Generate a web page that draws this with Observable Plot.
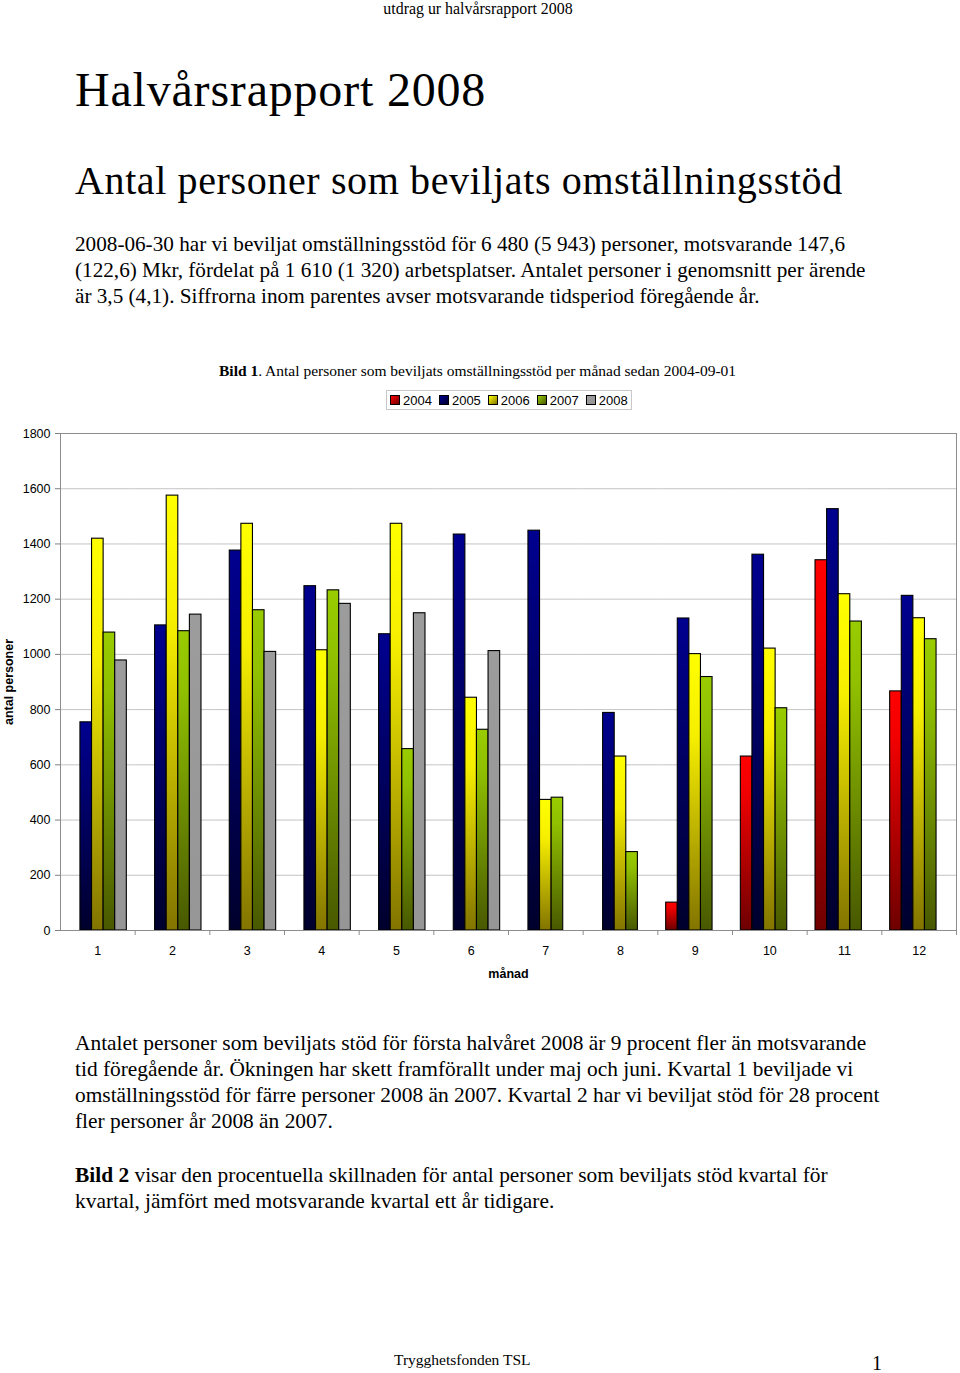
<!DOCTYPE html>
<html><head><meta charset="utf-8">
<script src="https://cdn.jsdelivr.net/npm/d3@7"></script>
<script src="https://cdn.jsdelivr.net/npm/@observablehq/plot@0.6"></script>
<style>
body{margin:0;background:#fff;width:960px;height:1373px;position:relative;overflow:hidden;}
.t{position:absolute;white-space:nowrap;color:#000;font-family:"Liberation Serif","Times New Roman",serif;}
#legend{position:absolute;left:386px;top:390px;width:246px;height:20px;border:1px solid #c8c8c8;font-family:"Liberation Sans",Arial,sans-serif;font-size:13px;line-height:19px;display:flex;align-items:center;padding-left:3px;box-sizing:border-box;}
#legend .it{display:flex;align-items:center;margin-right:7px;}
#legend .sw{width:8px;height:8px;border:1px solid #000;margin-right:3px;}
#chart{position:absolute;left:0;top:420px;}
#chart [aria-label="y-axis label"], #chart [aria-label="fx-axis label"]{font-weight:bold;}
</style></head><body>
<div class="t" style="left:0;width:956px;text-align:center;top:0;font-size:15.9px;line-height:17px">utdrag ur halvårsrapport 2008</div>
<div class="t" style="left:75px;top:64px;font-size:48px;line-height:52px;letter-spacing:0.8px">Halvårsrapport 2008</div>
<div class="t" style="left:75px;top:158px;font-size:40px;line-height:46px;letter-spacing:0.62px">Antal personer som beviljats omställningsstöd</div>
<div class="t" style="left:75px;top:231px;font-size:21.2px;line-height:26px">2008-06-30 har vi beviljat omställningsstöd för 6 480 (5 943) personer, motsvarande 147,6<br>(122,6) Mkr, fördelat på 1 610 (1 320) arbetsplatser. Antalet personer i genomsnitt per ärende<br>är 3,5 (4,1). Siffrorna inom parentes avser motsvarande tidsperiod föregående år.</div>
<div class="t" style="left:219px;top:362px;font-size:15.5px;line-height:18px"><b>Bild 1</b>. Antal personer som beviljats omställningsstöd per månad sedan 2004-09-01</div>
<div id="legend"></div>
<div id="chart"></div>
<div class="t" style="left:75px;top:1030px;font-size:21.4px;line-height:26px">Antalet personer som beviljats stöd för första halvåret 2008 är 9 procent fler än motsvarande<br>tid föregående år. Ökningen har skett framförallt under maj och juni. Kvartal 1 beviljade vi<br>omställningsstöd för färre personer 2008 än 2007. Kvartal 2 har vi beviljat stöd för 28 procent<br>fler personer år 2008 än 2007.</div>
<div class="t" style="left:75px;top:1162px;font-size:21.4px;line-height:26px"><b>Bild 2</b> visar den procentuella skillnaden för antal personer som beviljats stöd kvartal för<br>kvartal, jämfört med motsvarande kvartal ett år tidigare.</div>
<div class="t" style="left:394px;top:1351px;font-size:15.5px;line-height:18px">Trygghetsfonden TSL</div>
<div class="t" style="left:872px;top:1352px;font-size:20px;line-height:22px">1</div>
<script>
// ---- data ----
const months = ["1","2","3","4","5","6","7","8","9","10","11","12"];
const years = ["2004","2005","2006","2007","2008"];
const v2004 = [null,null,null,null,null,null,null,null,101,630,1341,866];
const v2005 = [754,1105,1376,1247,1073,1434,1448,788,1130,1361,1526,1212];
const v2006 = [1419,1575,1473,1015,1473,843,473,630,1001,1021,1218,1131];
const v2007 = [1079,1084,1160,1232,657,727,481,284,918,805,1119,1055];
const v2008 = [978,1144,1009,1183,1149,1012,null,null,null,null,null,null];
const yTicks = [0,200,400,600,800,1000,1200,1400,1600,1800];

// ---- styles ----
const series = {"2004": v2004, "2005": v2005, "2006": v2006, "2007": v2007, "2008": v2008};
const grad = {
  "2004": [[0,"#ff0000"],[0.2,"#f20000"],[1,"#6e0000"]],
  "2005": [[0,"#000090"],[1,"#00002c"]],
  "2006": [[0,"#ffff00"],[0.3,"#f6ee00"],[1,"#827400"]],
  "2007": [[0,"#99cc00"],[0.2,"#90c000"],[1,"#485800"]],
  "2008": [[0,"#9c9c9c"],[1,"#969696"]]
};

const rows = [];
years.forEach(yr => series[yr].forEach((v, j) => { if (v != null) rows.push({month: months[j], year: yr, value: v}); }));

// legend
const lg = document.getElementById("legend");
years.forEach(yr => {
  const it = document.createElement("div"); it.className = "it";
  const sw = document.createElement("div"); sw.className = "sw";
  sw.style.background = `linear-gradient(135deg, ${grad[yr][0][1]}, ${grad[yr][grad[yr].length-1][1]})`;
  const tx = document.createElement("span"); tx.textContent = yr;
  it.appendChild(sw); it.appendChild(tx); lg.appendChild(it);
});

const W = 960, H = 570, ML = 60, MR = 4, MT = 13, MB = 60;
const bw = (W - ML - MR) / months.length;

const chart = Plot.plot({
  width: W, height: H, marginLeft: ML, marginRight: MR, marginTop: MT, marginBottom: MB,
  style: {fontFamily: '"Liberation Sans", Arial, sans-serif', fontSize: "12.5px", color: "#000", background: "#fff", overflow: "visible"},
  fx: {domain: months, padding: 0, round: false},
  x: {domain: years, paddingInner: 0, paddingOuter: 0.72, round: false, axis: null},
  y: {domain: [0, 1800]},
  marks: [
    Plot.gridY(yTicks, {stroke: "#c4c4c4", strokeOpacity: 1}),
    ...years.map(yr => Plot.barY(rows.filter(d => d.year === yr), {
      fx: "month", x: "year", y: "value", fill: `url(#g${yr})`, stroke: "#000", strokeWidth: 1.1
    })),
    Plot.frame({facet: "super", stroke: "#8c8c8c"}),
    Plot.axisY(yTicks, {tickSize: 5, tickPadding: 5, tickFormat: d => String(d), stroke: "#808080", fill: "#000", label: "antal personer", labelAnchor: "center", labelOffset: 56, labelArrow: "none"}),
    Plot.axisFx({anchor: "bottom", tickSize: 0, tickPadding: 16, label: "månad", labelAnchor: "center", labelOffset: 47, labelArrow: "none"}),
    Plot.axisFx({anchor: "bottom", tickSize: 5, text: null, label: null, dx: bw / 2, stroke: "#8c8c8c"})
  ]
});

const svg = d3.select(chart);
const defs = svg.insert("defs", ":first-child");
years.forEach(yr => {
  const g = defs.append("linearGradient").attr("id", "g" + yr).attr("x1", 0).attr("y1", 0).attr("x2", 0).attr("y2", 1);
  grad[yr].forEach(([o, c]) => g.append("stop").attr("offset", o).attr("stop-color", c));
});
document.getElementById("chart").appendChild(chart);
</script>
</body></html>
